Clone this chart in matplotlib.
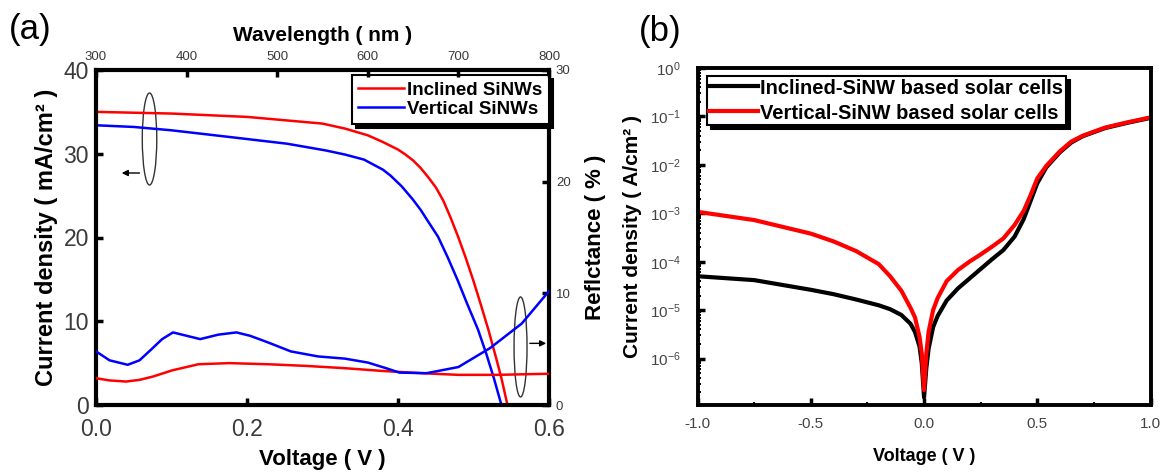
import numpy as np
import matplotlib
matplotlib.use('Agg')
import matplotlib.pyplot as plt
from matplotlib.patches import Ellipse
from matplotlib.ticker import LogLocator, NullFormatter, MultipleLocator

plt.rcParams['font.family'] = ['Liberation Sans', 'DejaVu Sans']
plt.rcParams['mathtext.fontset'] = 'custom'
plt.rcParams['mathtext.rm'] = 'Liberation Sans'
plt.rcParams['mathtext.it'] = 'Liberation Sans'
plt.rcParams['mathtext.default'] = 'regular'
plt.rcParams['axes.unicode_minus'] = False

# (a) illuminated J-V, current density in mA/cm2
v_incl = [0.0, 0.05, 0.10, 0.15, 0.20, 0.25, 0.30, 0.33, 0.36, 0.38, 0.40, 0.41, 0.42,
          0.43, 0.44, 0.45, 0.46, 0.47, 0.48, 0.49, 0.50, 0.51, 0.52, 0.53, 0.537, 0.545]
j_incl = [35.0, 34.9, 34.8, 34.6, 34.4, 34.0, 33.6, 33.0, 32.2, 31.4, 30.5, 29.9, 29.2,
          28.3, 27.2, 26.0, 24.4, 22.3, 20.0, 17.5, 14.8, 11.9, 8.9, 5.6, 3.2, 0.0]
v_vert = [0.0, 0.05, 0.10, 0.177, 0.253, 0.304, 0.33, 0.355, 0.38, 0.39, 0.405, 0.42,
          0.43, 0.44, 0.453, 0.466, 0.479, 0.492, 0.506, 0.517, 0.527, 0.537]
j_vert = [33.4, 33.2, 32.8, 32.0, 31.2, 30.4, 29.9, 29.3, 28.1, 27.4, 26.1, 24.5,
          23.3, 21.9, 20.1, 17.6, 14.9, 12.0, 9.0, 6.1, 3.2, 0.0]

# (a) reflectance spectra, %
wl_incl = [300, 315, 333, 348, 363, 384, 413, 447, 490, 532, 574, 616, 659, 700, 743, 800]
r_incl = [2.4, 2.2, 2.1, 2.25, 2.55, 3.1, 3.65, 3.75, 3.65, 3.5, 3.3, 3.05, 2.85, 2.7,
          2.7, 2.8]
wl_vert = [300, 315, 335, 348, 360, 373, 385, 400, 415, 435, 455, 470, 490, 515, 545,
           575, 600, 620, 635, 665, 700, 735, 770, 800]
r_vert = [4.8, 4.0, 3.6, 4.0, 4.9, 5.9, 6.5, 6.2, 5.9, 6.3, 6.5, 6.2, 5.6, 4.8, 4.35,
          4.15, 3.8, 3.3, 2.9, 2.85, 3.4, 5.1, 7.3, 10.2]

# (b) dark J-V, log10 of current density in A/cm2
v_dark = [-1.0, -0.75, -0.5, -0.4, -0.3, -0.2, -0.15, -0.1, -0.06, -0.04, -0.02, -0.01,
          0.0, 0.01, 0.02, 0.04, 0.06, 0.1, 0.15, 0.2, 0.25, 0.3, 0.35, 0.4, 0.44, 0.47,
          0.5, 0.54, 0.6, 0.65, 0.7, 0.8, 0.9, 1.0]
logj_incl = [-4.30, -4.38, -4.58, -4.67, -4.78, -4.90, -4.98, -5.10, -5.28, -5.45, -5.75,
             -6.1, -6.8, -6.2, -5.8, -5.35, -5.12, -4.80, -4.55, -4.35, -4.15, -3.95,
             -3.76, -3.48, -3.12, -2.75, -2.38, -2.05, -1.74, -1.54, -1.41, -1.24,
             -1.13, -1.03]
logj_vert = [-2.97, -3.14, -3.42, -3.58, -3.78, -4.05, -4.30, -4.60, -4.95, -5.15, -5.55,
             -5.9, -6.65, -5.9, -5.45, -5.0, -4.75, -4.40, -4.17, -4.00, -3.85, -3.69,
             -3.52, -3.24, -2.95, -2.63, -2.28, -2.02, -1.72, -1.52, -1.40, -1.23,
             -1.12, -1.02]

W, H = 1167, 475
fig = plt.figure(figsize=(W / 100, H / 100), dpi=100)


def box(l, t, r, b):
    return [l / W, 1 - b / H, (r - l) / W, (b - t) / H]


# ---------------- (a) ----------------
ax = fig.add_axes(box(96, 70, 549, 405))
axr = fig.add_axes(box(96, 70, 549, 405), frameon=False)

ax.plot(v_incl, j_incl, color='#ff0000', lw=1.8)
ax.plot(v_vert, j_vert, color='#0000ff', lw=1.8)
ax.set_xlim(0, 0.6)
ax.set_ylim(0, 40)
ax.set_xticks([0.0, 0.2, 0.4, 0.6])
ax.set_xticklabels(['0.0', '0.2', '0.4', '0.6'])
ax.set_yticks([0, 10, 20, 30, 40])
for s in ax.spines.values():
    s.set_linewidth(3)
ax.tick_params(direction='in', length=5, width=2.5, labelsize=16.5,
               labelcolor='#3a3a3a', pad=5)
ax.tick_params(axis='x', pad=9)
ax.set_xlabel('Voltage ( V )', fontsize=16, fontweight='bold', labelpad=6)
ax.set_ylabel('Current density ( mA/cm² )', fontsize=17, fontweight='bold', labelpad=4)

axr.plot(wl_incl, r_incl, color='#ff0000', lw=1.8)
axr.plot(wl_vert, r_vert, color='#0000ff', lw=1.8)
axr.set_xlim(300, 800)
axr.set_ylim(0, 30)
axr.xaxis.tick_top()
axr.yaxis.tick_right()
axr.xaxis.set_label_position('top')
axr.yaxis.set_label_position('right')
axr.set_xticks(range(300, 801, 100))
axr.set_yticks([0, 10, 20, 30])
axr.tick_params(direction='in', length=5, width=2.5, labelsize=9.5,
                labelcolor='#3a3a3a', pad=5)
axr.set_xlabel('Wavelength ( nm )', fontsize=15, fontweight='bold', labelpad=7)
axr.set_ylabel('Reflctance ( % )', fontsize=16, fontweight='bold', labelpad=10)

# axis markers: ellipse + arrow pointing to the axis each pair belongs to
ax.add_patch(Ellipse((0.0709, 31.76), 0.0192, 10.98, fill=False, ec='#333333', lw=1))
ax.annotate('', xy=(0.0304, 27.7), xytext=(0.0613, 27.7),
            arrowprops=dict(arrowstyle='-|>', color='k', lw=1, mutation_scale=9))
ax.add_patch(Ellipse((0.5623, 6.93), 0.0172, 11.94, fill=False, ec='#333333', lw=1))
ax.annotate('', xy=(0.6, 7.36), xytext=(0.5709, 7.36),
            arrowprops=dict(arrowstyle='-|>', color='k', lw=1, mutation_scale=9))

leg_a = ax.legend(['Inclined SiNWs', 'Vertical SiNWs'], loc='upper right',
                  bbox_to_anchor=(1.0, 0.985), borderaxespad=0, fancybox=False,
                  framealpha=1, edgecolor='k', handlelength=2.45, handletextpad=0.16,
                  borderpad=0.35, labelspacing=0.1,
                  prop={'size': 13.5, 'weight': 'bold'},
                  shadow={'facecolor': 'k', 'edgecolor': 'k', 'alpha': 1, 'ox': 3, 'oy': -3})
leg_a.get_frame().set_linewidth(1.5)
leg_a.set_zorder(5)

fig.text(30 / W, 1 - 29 / H, '(a)', fontsize=25, ha='center', va='center')

# ---------------- (b) ----------------
axb = fig.add_axes(box(697.6, 68, 1150.5, 405))
axb.semilogy(v_dark, np.power(10.0, logj_incl), color='k', lw=3)
axb.semilogy(v_dark, np.power(10.0, logj_vert), color='#ff0000', lw=3)
axb.set_xlim(-1, 1)
axb.set_ylim(1.1e-7, 1)
axb.set_xticks([-1.0, -0.5, 0.0, 0.5, 1.0])
axb.set_xticklabels(['-1.0', '-0.5', '0.0', '0.5', '1.0'])
axb.xaxis.set_minor_locator(MultipleLocator(0.25))
axb.yaxis.set_major_locator(LogLocator(base=10, numticks=10))
axb.yaxis.set_minor_locator(LogLocator(base=10, subs=np.arange(2, 10), numticks=10))
axb.yaxis.set_minor_formatter(NullFormatter())
for s in axb.spines.values():
    s.set_linewidth(2.8)
axb.tick_params(which='major', direction='in', length=5, width=2.5, labelsize=11,
                labelcolor='#444444', pad=9)
axb.tick_params(which='minor', direction='in', length=2.5, width=1.5)
axb.tick_params(axis='y', which='major', pad=12)
axb.set_xlabel('Voltage ( V )', fontsize=13, fontweight='bold', labelpad=12)
axb.set_ylabel('Current density ( A/cm² )', fontsize=15, fontweight='bold', labelpad=6)

leg_b = axb.legend(['Inclined-SiNW based solar cells', 'Vertical-SiNW based solar cells'],
                   loc='upper left', bbox_to_anchor=(0.020, 0.976), borderaxespad=0,
                   fancybox=False, framealpha=1, edgecolor='k', handlelength=2.45,
                   handletextpad=0.1, borderpad=0.12, labelspacing=0.3,
                   prop={'size': 14.5, 'weight': 'bold'},
                   shadow={'facecolor': 'k', 'edgecolor': 'k', 'alpha': 1, 'ox': 3, 'oy': -3})
leg_b.get_frame().set_linewidth(1.5)

fig.text(660 / W, 1 - 31 / H, '(b)', fontsize=25, ha='center', va='center')

fig.savefig('out.png', dpi=100)
